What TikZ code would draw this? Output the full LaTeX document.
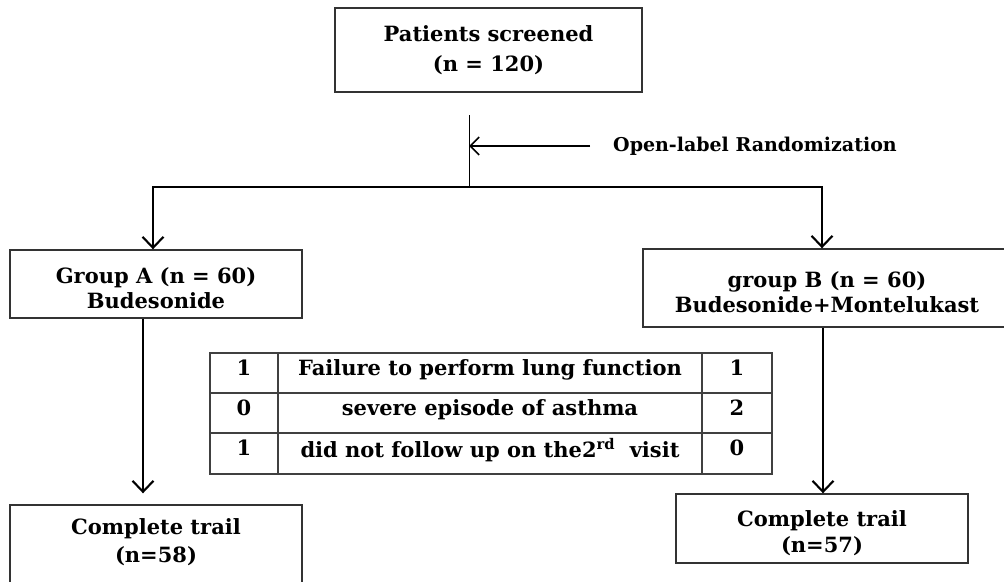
\documentclass[tikz,border=0pt]{standalone}
\usepackage{fontspec}
\setmainfont{DejaVu Serif}
\usetikzlibrary{arrows.meta}
\begin{document}
\begin{tikzpicture}[x=1pt,y=-1pt,
  box/.style={draw=black!80, line width=1.4pt, inner sep=0pt, align=center,
    font=\bfseries\fontsize{21}{25}\selectfont},
  lbl/.style={font=\bfseries\fontsize{21}{25}\selectfont, align=center, inner sep=0pt},
  cell/.style={font=\bfseries\fontsize{21}{24}\selectfont, inner sep=0pt},
  arr/.style={line width=2.1pt, -{Straight Barb[length=11pt,width=21pt,line width=2.1pt]}},
  rarr/.style={line width=1.6pt, -{Straight Barb[length=9pt,width=18pt,line width=1.6pt]}},
  tbl/.style={draw=black!75, line width=1.3pt},
]
\useasboundingbox (0,0) rectangle (1004,581);

% boxes
\node[box, minimum width=307pt, minimum height=84pt] (top) at (488.5,50)
  {Patients screened\\[5pt](n = 120)};
\node[box, minimum width=292pt, minimum height=68pt] (grpA) at (156,284) {};
\node[lbl] (grpAtext) at (156,288) {Group A (n = 60)\\Budesonide};
\node[box, minimum width=368pt, minimum height=78pt] (grpB) at (827,288) {};
\node[lbl] (grpBtext) at (827,292) {group B (n = 60)\\Budesonide+Montelukast};
\node[box, minimum width=292pt, minimum height=90pt] (ctA) at (156,550) {};
\node[lbl, anchor=north] (ctAtext) at (156,518) {Complete trail\\[3pt](n=58)};
\node[box, minimum width=292pt, minimum height=69pt] (ctB) at (822,528.5) {};
\node[lbl] (ctBtext) at (822,533) {Complete trail\\[1pt](n=57)};

% randomization
\coordinate (stubtop) at (469,115);
\coordinate (split) at (469,187);
\node[anchor=west, font=\bfseries\fontsize{19}{22}\selectfont, inner sep=0pt] (rand) at (613,146)
  {Open-label Randomization};
\draw[line width=1pt] (stubtop) -- (split);
\draw[rarr] ([xshift=-23pt]rand.west) -- (stubtop |- rand.west);
\draw[arr] (split) -| ([xshift=-3pt]grpA.north);
\draw[arr] (split) -| ([xshift=-5pt]grpB.north);

% down arrows
\draw[arr] ([xshift=-13pt]grpA.south) -- ([xshift=-13pt,yshift=11pt]ctA.north);
\draw[arr] ([xshift=-4pt]grpB.south) -- ([xshift=-4pt]grpB.south |- ctB.north);

% table
\draw[tbl] (210,353) rectangle (772,474);
\draw[tbl] (210,393) -- (772,393);
\draw[tbl] (210,433) -- (772,433);
\draw[tbl] (278,353) -- (278,474);
\draw[tbl] (702,353) -- (702,474);
\node[cell] (r1a) at (244,368) {1};
\node[cell] (r1b) at (490,370) {Failure to perform lung function};
\node[cell] (r1c) at (737,368) {1};
\node[cell] (r2a) at (244,408) {0};
\node[cell] (r2b) at (490,410) {severe episode of asthma};
\node[cell] (r2c) at (737,408) {2};
\node[cell] (r3a) at (244,448) {1};
\node[cell] (r3b) at (490,450) {did not follow up on the2\textsuperscript{rd}\ \ visit};
\node[cell] (r3c) at (737,448) {0};
\end{tikzpicture}
\end{document}
